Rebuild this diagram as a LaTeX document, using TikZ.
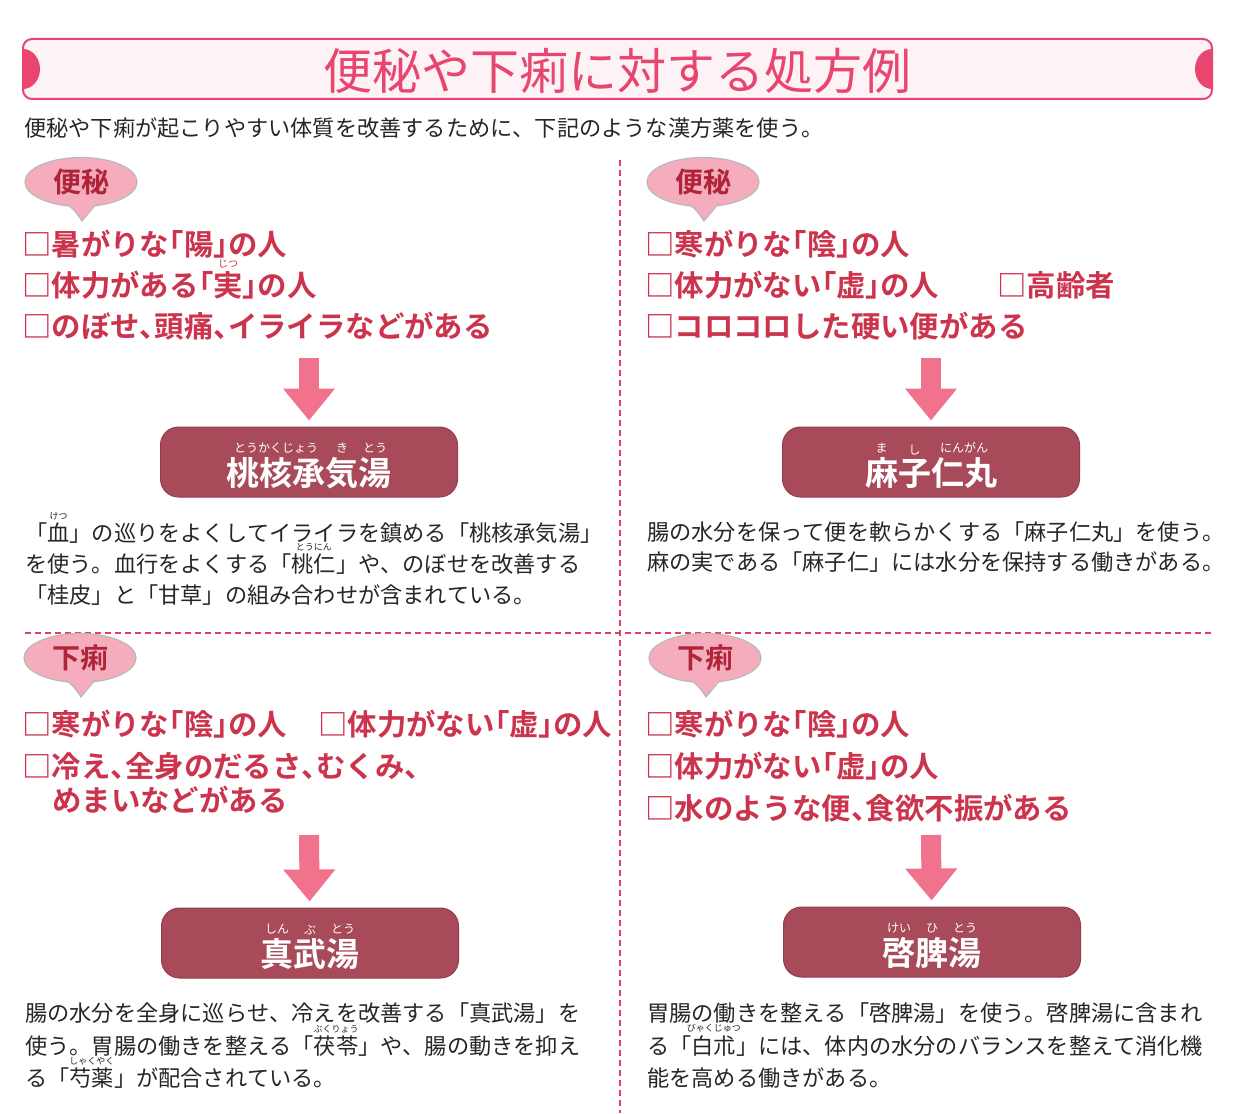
\documentclass[tikz,border=0pt]{standalone}
\usepackage{fontspec}
\setmainfont{Noto Sans CJK JP}[BoldFont={* Bold}, Kerning=Off]
\newfontfamily\halffont{Noto Sans CJK JP}[BoldFont={* Bold}, Kerning=Off, RawFeature=+halt]
\usetikzlibrary{positioning,shapes.geometric,arrows.meta}

\definecolor{bannerpink}{RGB}{232,70,110}
\definecolor{bannerfill}{RGB}{253,243,246}
\definecolor{checkred}{RGB}{204,52,78}
\definecolor{labelred}{RGB}{176,36,58}
\definecolor{bubblepink}{RGB}{245,172,188}
\definecolor{arrowpink}{RGB}{241,114,140}
\definecolor{boxred}{RGB}{168,74,90}
\definecolor{dashred}{RGB}{226,64,96}
\definecolor{bodytext}{RGB}{38,38,38}

% ruby over a word: \furi[size]{base}{reading}
\newcommand\furi[3][9]{\mbox{\setbox0=\hbox{#2}\rlap{\hbox to \wd0{\hss\raisebox{\dimexpr\ht0+0.3\dimexpr#1pt\relax+1pt\relax}{\fontsize{#1}{#1}\selectfont\mdseries #3}\hss}}\box0}}

\tikzset{every picture/.style={line width=0.75pt}}
\tikzset{
  bubble/.style={ellipse, draw=gray!55, line width=1.2pt, fill=bubblepink, minimum width=112pt, minimum height=49pt, inner sep=0pt, text=labelred, font=\fontsize{28}{28}\selectfont\bfseries},
  bubbletail/.style={fill=bubblepink},
  checkline/.style={anchor=west, inner sep=0pt, text=checkred, text height=25.5pt, text depth=3.5pt, font=\halffont\fontsize{29.4}{30}\selectfont\bfseries},
  descline/.style={anchor=west, inner sep=0pt, text=bodytext, text height=19.5pt, text depth=2.7pt, font=\fontsize{22.2}{24}\selectfont},
  drugbox/.style={rounded corners=18pt, fill=boxred, draw=boxred!85!black, line width=1pt, minimum width=297pt, minimum height=70pt, inner sep=0pt, text=white, text height=52pt, text depth=5pt, font=\fontsize{33}{36}\selectfont\bfseries},
  downarrow/.style={draw=arrowpink, line width=20pt, -{Triangle[width=50pt,length=32pt]}, shorten >=6pt},
  divider/.style={draw=dashred, line width=1.6pt, dash pattern=on 6pt off 4pt}
}

\begin{document}
\begin{tikzpicture}[x=1pt, y=-1pt]
  \useasboundingbox[fill=white] (0,0) rectangle (1241,1113);

  % title banner
  \fill[bannerfill, rounded corners=9pt] (23,39) rectangle (1212,99);
  \begin{scope}
    \clip[rounded corners=9pt] (23,39) rectangle (1212,99);
    \fill[bannerpink] (23,69) ellipse [x radius=17, y radius=20];
    \fill[bannerpink] (1212,69) ellipse [x radius=17, y radius=20];
  \end{scope}
  \draw[bannerpink, line width=2pt, rounded corners=9pt] (23,39) rectangle (1212,99);
  \node[text=bannerpink, font=\fontsize{49}{50}\selectfont, inner sep=0pt] (title) at (617,71) {便秘や下痢に対する処方例};
  \node[descline] (lead) at (24,128) {便秘や下痢が起こりやすい体質を改善するために、下記のような漢方薬を使う。};

  % dividers
  \draw[divider] (620,160) -- (620,1113);
  \draw[divider] (25,633) -- (1213,633);

  % bubbles
  \node[bubble] (b1) at (81,182) {便秘};
  \node[bubble] (b2) at (703,182) {便秘};
  \node[bubble] (b3) at (80,658) {下痢};
  \node[bubble] (b4) at (705,658) {下痢};
  \foreach \b in {b1,b2,b3,b4} {
    \fill[bubbletail] ([shift={(-16,18)}]\b.center) -- ([shift={(1,39)}]\b.center) -- ([shift={(18,17)}]\b.center) -- cycle;
    \draw[gray!55, line width=1.2pt] ([shift={(-15,22)}]\b.center) .. controls ([shift={(-6,28)}]\b.center) .. ([shift={(1,39)}]\b.center) -- ([shift={(16,21)}]\b.center);
  }

  % upper left
  \node[checkline] (c11) at (22,244) {□暑がりな「陽」の人};
  \node[checkline] (c12) at (22,285) {□体力がある「\furi[10]{実}{じつ}」の人};
  \node[checkline] (c13) at (22,326) {□のぼせ、頭痛、イライラなどがある};
  \coordinate (a1) at (309,358);
  \node[drugbox] (d1) at (309,462) {\furi[12]{桃核承}{とうかくじょう}\furi[12]{気}{き}\furi[12]{湯}{とう}};
  \draw[downarrow] (a1) -- (d1);
  \node[descline] (t11) at (25,533) {「\furi{血}{けつ}」の巡りをよくしてイライラを鎮める「桃核承気湯」};
  \node[descline] (t12) at (25,564) {を使う。血行をよくする「\furi{桃仁}{とうにん}」や、のぼせを改善する};
  \node[descline] (t13) at (25,595) {「桂皮」と「甘草」の組み合わせが含まれている。};

  % upper right
  \node[checkline] (c21) at (645,244) {□寒がりな「陰」の人};
  \node[checkline] (c22) at (645,285) {□体力がない「虚」の人};
  \node[checkline] (c23) at (997,285) {□高齢者};
  \node[checkline] (c24) at (645,326) {□コロコロした硬い便がある};
  \coordinate (a2) at (931,358);
  \node[drugbox] (d2) at (931,462) {\furi[12]{麻}{ま}\furi[12]{子}{し}\furi[12]{仁丸}{にんがん}};
  \draw[downarrow] (a2) -- (d2);
  \node[descline] (t21) at (647,532) {腸の水分を保って便を軟らかくする「麻子仁丸」を使う。};
  \node[descline] (t22) at (647,562) {麻の実である「麻子仁」には水分を保持する働きがある。};

  % lower left
  \node[checkline] (c31) at (22,724) {□寒がりな「陰」の人};
  \node[checkline] (c32) at (318,724) {□体力がない「虚」の人};
  \node[checkline] (c33) at (22,766) {□冷え、全身のだるさ、むくみ、};
  \node[checkline] (c34) at (52,800) {めまいなどがある};
  \coordinate (a3) at (309,835);
  \node[drugbox] (d3) at (310,943) {\furi[12]{真}{しん}\furi[12]{武}{ぶ}\furi[12]{湯}{とう}};
  \draw[downarrow] (a3) -- (d3);
  \node[descline] (t31) at (25,1013) {腸の水分を全身に巡らせ、冷えを改善する「真武湯」を};
  \node[descline] (t32) at (25,1046) {使う。胃腸の働きを整える「\furi{茯苓}{ぶくりょう}」や、腸の動きを抑え};
  \node[descline] (t33) at (25,1078) {る「\furi{芍薬}{しゃくやく}」が配合されている。};

  % lower right
  \node[checkline] (c41) at (645,724) {□寒がりな「陰」の人};
  \node[checkline] (c42) at (645,766) {□体力がない「虚」の人};
  \node[checkline] (c43) at (645,808) {□水のような便、食欲不振がある};
  \coordinate (a4) at (931,835);
  \node[drugbox] (d4) at (932,942) {\furi[12]{啓}{けい}\furi[12]{脾}{ひ}\furi[12]{湯}{とう}};
  \draw[downarrow] (a4) -- (d4);
  \node[descline] (t41) at (647,1013) {胃腸の働きを整える「啓脾湯」を使う。啓脾湯に含まれ};
  \node[descline] (t42) at (647,1046) {る「\furi{白朮}{びゃくじゅつ}」には、体内の水分のバランスを整えて消化機};
  \node[descline] (t43) at (647,1078) {能を高める働きがある。};
\end{tikzpicture}
\end{document}
